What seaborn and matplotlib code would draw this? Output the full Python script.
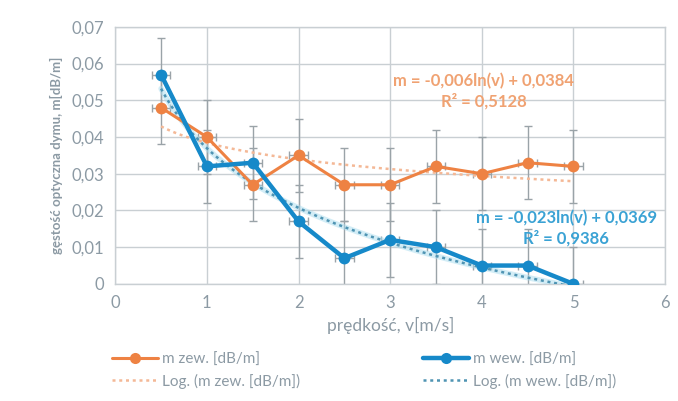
import numpy as np
import pandas as pd
import matplotlib
matplotlib.use("Agg")
import matplotlib.pyplot as plt
import seaborn as sns
from matplotlib.ticker import FuncFormatter, MultipleLocator
from matplotlib.lines import Line2D

# ---- data ----
v = [0.5, 1.0, 1.5, 2.0, 2.5, 3.0, 3.5, 4.0, 4.5, 5.0]
m_zew = [0.048, 0.040, 0.027, 0.035, 0.027, 0.027, 0.032, 0.030, 0.033, 0.032]
m_wew = [0.057, 0.032, 0.033, 0.017, 0.007, 0.012, 0.010, 0.005, 0.005, 0.000]
y_err = 0.01
x_err = 0.1
eq_zew = ["m = -0,006ln(v) + 0,0384", "R² = 0,5128"]
eq_wew = ["m = -0,023ln(v) + 0,0369", "R² = 0,9386"]
labels = ["m zew. [dB/m]", "Log. (m zew. [dB/m])", "m wew. [dB/m]", "Log. (m wew. [dB/m])"]
x_label = "prędkość, v[m/s]"
y_label = "gęstość optyczna dymu, m[dB/m]"

ORANGE = "#ee8243"
BLUE = "#1689c9"
TXT = "#8c9aa4"

sns.set_theme(style="whitegrid")
plt.rcParams["font.family"] = ["Lato", "DejaVu Sans"]

fig = plt.figure(figsize=(6.78, 4.01), dpi=100)
ax = fig.add_axes([0.170, 0.292, 0.811, 0.641])

df = pd.DataFrame({"v": v, "zew": m_zew, "wew": m_wew})

# error bars
for col in ["zew", "wew"]:
    ax.errorbar(df["v"], df[col], yerr=y_err, xerr=x_err, fmt="none",
                ecolor="#9aa3a8", elinewidth=1.0, capsize=3, capthick=1.0, zorder=2)

# trendlines (log fit)
xs = np.linspace(min(v), max(v), 200)
a1, b1 = np.polyfit(np.log(df["v"]), df["zew"], 1)
a2, b2 = np.polyfit(np.log(df["v"]), df["wew"], 1)
ax.plot(xs, a2 * np.log(xs) + b2, color="#a8dcef", lw=4, alpha=0.5, zorder=3)
ax.plot(xs, a2 * np.log(xs) + b2, color="#4f94b3", lw=1.8, ls=(0, (1.2, 1.5)), zorder=3)
ax.plot(xs, a1 * np.log(xs) + b1, color="#f4b896", lw=1.8, ls=(0, (1.2, 1.5)), zorder=3)

sns.lineplot(data=df, x="v", y="zew", ax=ax, color=ORANGE, lw=2.2, marker="o",
             markersize=8.5, markeredgewidth=0, zorder=4)
sns.lineplot(data=df, x="v", y="wew", ax=ax, color=BLUE, lw=3.2, marker="o",
             markersize=8.5, markeredgewidth=0, zorder=5)

ax.set_xlim(0, 6)
ax.set_ylim(0, 0.07)
ax.xaxis.set_major_locator(MultipleLocator(1))
ax.yaxis.set_major_locator(MultipleLocator(0.01))
ax.yaxis.set_major_formatter(FuncFormatter(lambda y, p: "0" if abs(y) < 1e-9 else f"{y:.2f}".replace(".", ",")))
ax.xaxis.set_major_formatter(FuncFormatter(lambda x, p: f"{x:.0f}"))
ax.tick_params(axis="both", colors=TXT, labelsize=12, length=0, pad=8)
ax.grid(True, color="#c9cfd3", lw=1.0)
for s in ax.spines.values():
    s.set_color("#c9cfd3")
    s.set_linewidth(1.0)
ax.set_xlabel(x_label, color=TXT, fontsize=12.5, labelpad=4)
ax.set_ylabel(y_label, color=TXT, fontsize=9.5, fontweight="bold", labelpad=6)

ax.text(4.02, 0.0553, eq_zew[0], color="#f0a272", fontsize=12, fontweight="bold", ha="center", va="center")
ax.text(4.02, 0.0497, eq_zew[1], color="#f0a272", fontsize=12, fontweight="bold", ha="center", va="center")
ax.text(4.92, 0.0179, eq_wew[0], color="#3aa2d4", fontsize=12, fontweight="bold", ha="center", va="center")
ax.text(4.92, 0.0123, eq_wew[1], color="#3aa2d4", fontsize=12, fontweight="bold", ha="center", va="center")

h1 = Line2D([], [], color=ORANGE, lw=2.2, marker="o", markersize=8, markeredgewidth=0)
h3 = Line2D([], [], color=BLUE, lw=3.2, marker="o", markersize=8, markeredgewidth=0)
h2 = Line2D([], [], color="#f4b896", lw=1.8, ls=(0, (1.2, 1.5)))
h4 = Line2D([], [], color="#4f94b3", lw=1.8, ls=(0, (1.2, 1.5)))
leg = fig.legend([h1, h2, h3, h4], labels, ncol=2, loc="upper left",
                 bbox_to_anchor=(0.145, 0.155), frameon=False, fontsize=11,
                 columnspacing=8.0, handlelength=3.0, handletextpad=0.3, labelspacing=0.45)
for t in leg.get_texts():
    t.set_color(TXT)

fig.savefig("out.png", dpi=100, facecolor="white")
